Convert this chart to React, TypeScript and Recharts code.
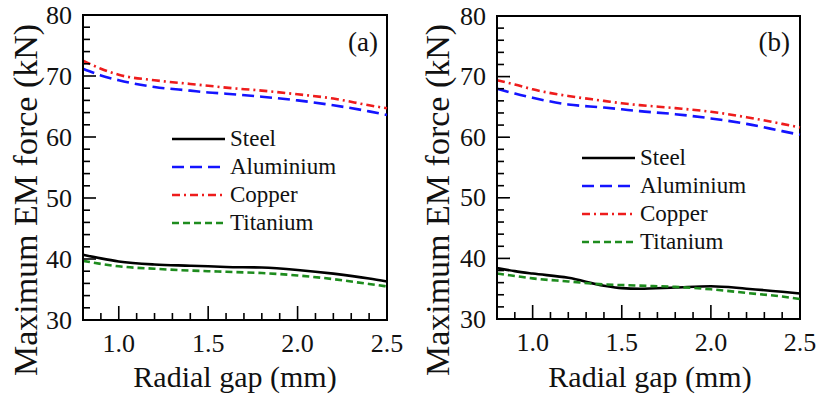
import React from 'react';
import { LineChart, Line, XAxis, YAxis, ReferenceArea, Legend, Label } from 'recharts';

// radial gap (mm) sample points shared by every curve
const gap = [0.8, 0.9, 1.0, 1.2, 1.4, 1.5, 1.6, 1.8, 2.0, 2.2, 2.4, 2.5];

// panel (a)
const steelA = [40.7, 40.1, 39.6, 39.1, 38.9, 38.8, 38.7, 38.6, 38.2, 37.6, 36.8, 36.3];
const aluminiumA = [71.2, 70.1, 69.3, 68.2, 67.6, 67.3, 67.1, 66.6, 66.0, 65.2, 64.2, 63.6];
const copperA = [72.5, 71.2, 70.2, 69.3, 68.7, 68.4, 68.1, 67.6, 67.0, 66.3, 65.2, 64.7];
const titaniumA = [39.7, 39.2, 38.8, 38.4, 38.1, 38.0, 37.9, 37.7, 37.3, 36.7, 35.9, 35.5];

// panel (b)
const steelB = [38.4, 37.9, 37.5, 36.8, 35.5, 35.1, 35.0, 35.2, 35.4, 35.0, 34.5, 34.2];
const aluminiumB = [68.0, 67.2, 66.5, 65.4, 64.9, 64.6, 64.3, 63.8, 63.1, 62.2, 61.0, 60.4];
const copperB = [69.4, 68.7, 67.9, 66.8, 66.0, 65.6, 65.3, 64.8, 64.2, 63.3, 62.2, 61.6];
const titaniumB = [37.5, 37.1, 36.7, 36.2, 35.7, 35.6, 35.5, 35.3, 34.9, 34.3, 33.7, 33.3];

const seriesNames = ['Steel', 'Aluminium', 'Copper', 'Titanium'];

const xTicks = [0.8, 0.9, 1.0, 1.1, 1.2, 1.3, 1.4, 1.5, 1.6, 1.7, 1.8, 1.9, 2.0, 2.1, 2.2, 2.3, 2.4, 2.5];
const xLabels = [1.0, 1.5, 2.0, 2.5];
const yTicks = [30, 32, 34, 36, 38, 40, 42, 44, 46, 48, 50, 52, 54, 56, 58, 60, 62, 64, 66, 68, 70, 72, 74, 76, 78, 80];
const yLabels = [30, 40, 50, 60, 70, 80];

// a single family name only; a fallback list did not resolve here
const FONT = 'Liberation Serif';

const styles: Record<string, { stroke: string; dash?: string }> = {
  Steel: { stroke: '#000000' },
  Aluminium: { stroke: '#1414ff', dash: '12 6' },
  Copper: { stroke: '#ee1c1c', dash: '8 4 2 4' },
  Titanium: { stroke: '#1e8c1e', dash: '7 4' },
};

const buildData = (cols: number[][]) =>
  gap.map((g, i) => {
    const row: Record<string, number> = { gap: g };
    seriesNames.forEach((n, j) => (row[n] = cols[j][i]));
    return row;
  });

const dataA = buildData([steelA, aluminiumA, copperA, titaniumA]);
const dataB = buildData([steelB, aluminiumB, copperB, titaniumB]);

const isIn = (list: number[], v: number) => list.some((t) => Math.abs(t - v) < 1e-6);

const XTick = (props: any) => {
  const { x, y, payload } = props;
  const major = isIn(xLabels, payload.value);
  return (
    <g>
      <line x1={x} x2={x} y1={y} y2={y - (major ? 14 : 7)} stroke="#000" strokeWidth={1.6} />
      {major && (
        <text x={x} y={y + 32} textAnchor="middle" fontSize={26} fontFamily={FONT} fill="#111">
          {payload.value.toFixed(1)}
        </text>
      )}
    </g>
  );
};

const YTick = (props: any) => {
  const { x, y, payload } = props;
  const major = isIn(yLabels, payload.value);
  return (
    <g>
      <line x1={x} x2={x + (major ? 13 : 7)} y1={y} y2={y} stroke="#000" strokeWidth={1.6} />
      {major && (
        <text x={x - 11} y={y} dominantBaseline="central" textAnchor="end" fontSize={26} fontFamily={FONT} fill="#111">
          {payload.value}
        </text>
      )}
    </g>
  );
};

const LegendBox = () => (
  <div style={{ fontFamily: FONT, fontSize: 23, color: '#111' }}>
    {seriesNames.map((name) => (
      <div key={name} style={{ display: 'flex', alignItems: 'center', height: 28 }}>
        <svg width={54} height={6}>
          <line x1={0} x2={53} y1={3} y2={3} stroke={styles[name].stroke} strokeWidth={2.6} strokeDasharray={styles[name].dash} />
        </svg>
        <span style={{ marginLeft: 4, lineHeight: '28px' }}>{name}</span>
      </div>
    ))}
  </div>
);

interface PanelProps {
  data: Record<string, number>[];
  width: number;
  top: number;
  right: number;
  yWidth: number;
  xHeight: number;
  tag: string;
  tagX: number;
  yTitleX: number;
  xTitleX: number;
  legendLeft: number;
  legendTop: number;
}

const Panel: React.FC<PanelProps> = (p) => (
  <LineChart
    width={p.width}
    height={397}
    data={p.data}
    margin={{ top: p.top, right: p.right, left: 0, bottom: 0 }}
    style={{ fontFamily: FONT }}
  >
    <XAxis
      dataKey="gap"
      type="number"
      domain={[0.8, 2.5]}
      ticks={xTicks}
      interval={0}
      height={p.xHeight}
      tickSize={0}
      tickMargin={0}
      tickLine={false}
      tick={<XTick />}
      axisLine={{ stroke: '#000', strokeWidth: 2 }}
    >
      <Label
        content={() => (
          <text x={p.xTitleX} y={387} textAnchor="middle" fontSize={30} fontFamily={FONT} fill="#111">
            Radial gap (mm)
          </text>
        )}
      />
    </XAxis>
    <YAxis
      type="number"
      domain={[30, 80]}
      ticks={yTicks}
      interval={0}
      width={p.yWidth}
      tickSize={0}
      tickMargin={0}
      tickLine={false}
      tick={<YTick />}
      axisLine={{ stroke: '#000', strokeWidth: 2 }}
    >
      <Label
        content={() => (
          <text
            x={p.yTitleX}
            y={200}
            transform={`rotate(-90 ${p.yTitleX} 200)`}
            textAnchor="middle"
            dominantBaseline="central"
            fontSize={34}
            fontFamily={FONT}
            fill="#111"
          >
            Maximum EM force (kN)
          </text>
        )}
      />
    </YAxis>
    <ReferenceArea x1={0.8} x2={2.5} y1={30} y2={80} fill="none" stroke="#000" strokeWidth={2} ifOverflow="visible">
      <Label
        content={() => (
          <text x={p.tagX} y={51} textAnchor="end" fontSize={27} fontFamily={FONT} fill="#111">
            {p.tag}
          </text>
        )}
      />
    </ReferenceArea>
    <Legend
      layout="vertical"
      align="center"
      verticalAlign="middle"
      content={<LegendBox />}
      wrapperStyle={{ left: p.legendLeft, top: p.legendTop, width: 'auto' }}
    />
    {seriesNames.map((name) => (
      <Line
        key={name}
        dataKey={name}
        type="monotone"
        stroke={styles[name].stroke}
        strokeWidth={2.6}
        strokeDasharray={styles[name].dash}
        dot={false}
        activeDot={false}
        isAnimationActive={false}
      />
    ))}
  </LineChart>
);

export default function App() {
  return (
    <div style={{ position: 'absolute', left: 0, top: 0, width: 819, height: 397, background: '#fff', display: 'flex' }}>
      <Panel
        data={dataA}
        width={410}
        top={15}
        right={23}
        yWidth={83}
        xHeight={77}
        tag="(a)"
        tagX={378}
        yTitleX={25}
        xTitleX={235}
        legendLeft={172}
        legendTop={125}
      />
      <Panel
        data={dataB}
        width={409}
        top={16}
        right={19}
        yWidth={87}
        xHeight={78}
        tag="(b)"
        tagX={380}
        yTitleX={27}
        xTitleX={240}
        legendLeft={172}
        legendTop={144}
      />
    </div>
  );
}
